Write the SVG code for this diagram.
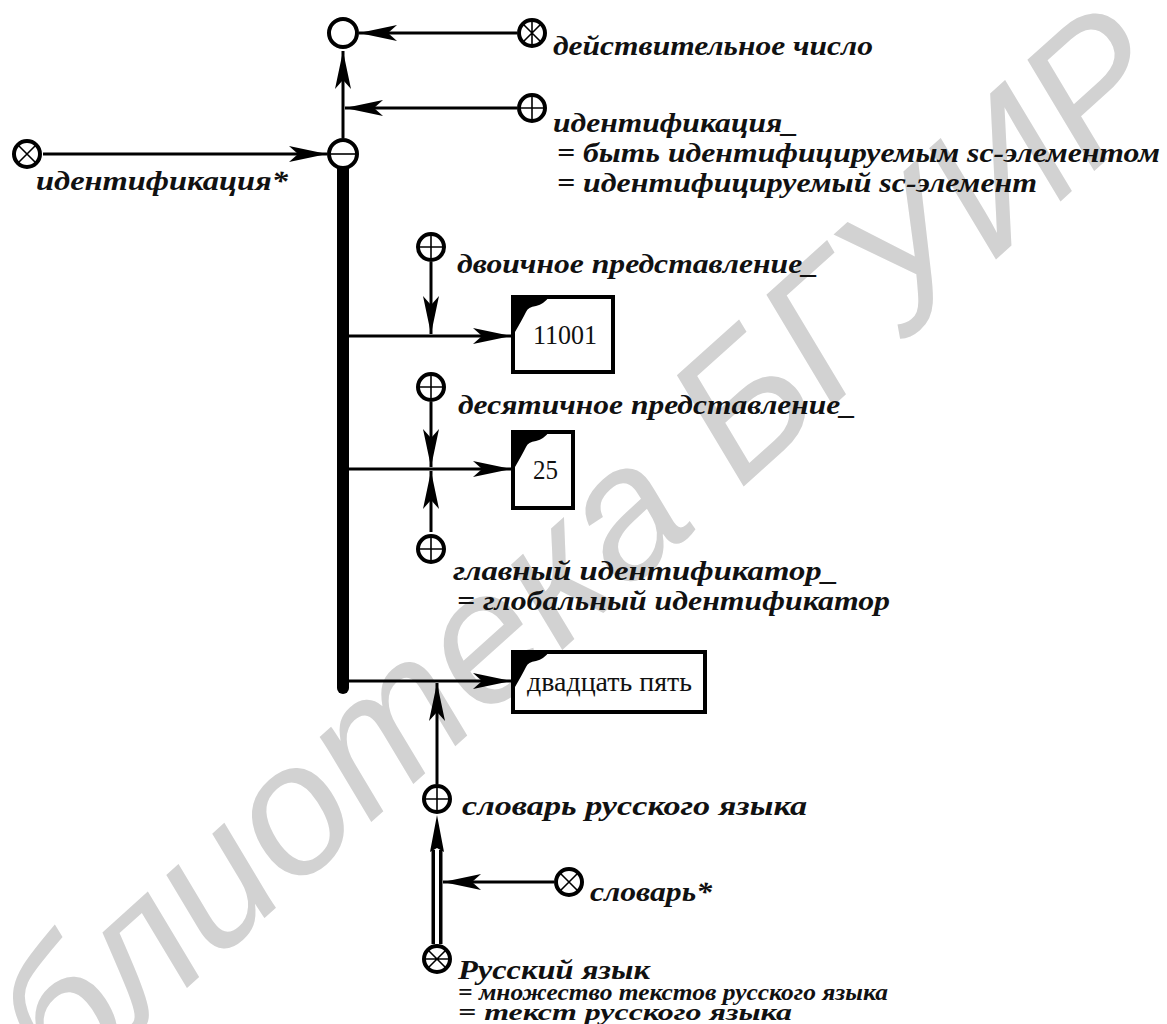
<svg xmlns="http://www.w3.org/2000/svg" width="1167" height="1024" viewBox="0 0 1167 1024">
<defs>
<style>
.lbl{font-family:"Liberation Serif","DejaVu Serif",serif;font-style:italic;font-weight:bold;font-size:28px;fill:#111;}
.sm{font-size:24px;}
.box{fill:#fff;stroke:#000;stroke-width:4;}
.btxt{font-family:"Liberation Serif","Times New Roman",serif;font-size:27px;fill:#111;}
.node{fill:#fff;stroke:#000;stroke-width:4;}
.in{stroke:#000;stroke-width:1.6;fill:none;}
.con{stroke:#000;stroke-width:3;fill:none;}
.wm{font-family:"Liberation Sans",Arial,sans-serif;font-style:italic;font-size:185px;fill:#d2d2d2;}
</style>
<marker id="ah" viewBox="0 0 38 16" refX="38" refY="8" markerWidth="38" markerHeight="16" markerUnits="userSpaceOnUse" orient="auto"><path d="M0,0 L38,8 L0,16 L9,8 Z" fill="#000"/></marker>
<path id="corner" d="M0,0 H36 Q31,7 23,9 Q15,10 13,15 Q9,23 2,35 L0,35 Z" fill="#000"/>
</defs>
<rect width="1167" height="1024" fill="#fff"/>
<g id="watermark"><text class="wm" transform="translate(540,670) rotate(-42)" text-anchor="middle">Библиотека БГУИР</text></g>

<g id="connectors">
<line class="con" x1="517" y1="33" x2="359" y2="33" marker-end="url(#ah)"/>
<line class="con" x1="343" y1="138" x2="343" y2="51" marker-end="url(#ah)"/>
<line class="con" x1="517" y1="108" x2="345" y2="108" marker-end="url(#ah)"/>
<line class="con" x1="43" y1="154" x2="327" y2="154" marker-end="url(#ah)"/>
<line x1="343" y1="165" x2="343" y2="688" stroke="#000" stroke-width="12" stroke-linecap="round"/>
<line class="con" x1="349" y1="336" x2="511" y2="336" marker-end="url(#ah)"/>
<line class="con" x1="431" y1="262" x2="431" y2="334" marker-end="url(#ah)"/>
<line class="con" x1="349" y1="469" x2="511" y2="469" marker-end="url(#ah)"/>
<line class="con" x1="431" y1="402" x2="431" y2="467" marker-end="url(#ah)"/>
<line class="con" x1="431" y1="532" x2="431" y2="471" marker-end="url(#ah)"/>
<line class="con" x1="349" y1="681" x2="511" y2="681" marker-end="url(#ah)"/>
<line class="con" x1="437" y1="784" x2="437" y2="683" marker-end="url(#ah)"/>
<line x1="437" y1="944" x2="437" y2="850" stroke="#000" stroke-width="11"/>
<line x1="437" y1="946" x2="437" y2="848" stroke="#fff" stroke-width="4"/>
<path d="M437,815 L444,852 L437,848 L430,852 Z" fill="#000"/>
<line class="con" x1="554" y1="882" x2="443" y2="882" marker-end="url(#ah)"/>
</g>

<g id="n-top"><circle class="node" cx="343" cy="33" r="14"/></g>
<g id="n-real"><circle class="node" cx="532" cy="33" r="13"/><path class="in" d="M523,24 L541,42 M541,24 L523,42 M532,20 V46"/>
<text class="lbl" x="553" y="55" textLength="320" lengthAdjust="spacingAndGlyphs">действительное число</text></g>
<g id="n-ident-role"><circle class="node" cx="532" cy="108" r="13"/><path class="in" d="M519,108 H545 M532,95 V121"/>
<text class="lbl" x="553" y="132" textLength="245" lengthAdjust="spacingAndGlyphs">идентификация_</text>
<text class="lbl" x="557" y="162" textLength="603" lengthAdjust="spacingAndGlyphs">= быть идентифицируемым sc-элементом</text>
<text class="lbl" x="557" y="192" textLength="480" lengthAdjust="spacingAndGlyphs">= идентифицируемый sc-элемент</text></g>
<g id="n-ident-rel"><circle class="node" cx="27" cy="154" r="13"/><path class="in" d="M18,145 L36,163 M36,145 L18,163"/>
<text class="lbl" x="36" y="190" textLength="252" lengthAdjust="spacingAndGlyphs">идентификация*</text></g>
<g id="n-pair"><circle class="node" cx="343" cy="154" r="14"/><path class="in" d="M329,154 H357"/></g>

<g id="n-bin"><circle class="node" cx="431" cy="247" r="13"/><path class="in" d="M418,247 H444 M431,234 V260"/>
<text class="lbl" x="457" y="273" textLength="361" lengthAdjust="spacingAndGlyphs">двоичное представление_</text></g>
<g id="b-11001"><rect class="box" x="513" y="297" width="100" height="75"/><use href="#corner" x="513" y="297"/>
<text class="btxt" x="533" y="344" textLength="64" lengthAdjust="spacingAndGlyphs">11001</text></g>

<g id="n-dec"><circle class="node" cx="431" cy="387" r="13"/><path class="in" d="M418,387 H444 M431,374 V400"/>
<text class="lbl" x="458" y="414" textLength="398" lengthAdjust="spacingAndGlyphs">десятичное представление_</text></g>
<g id="b-25"><rect class="box" x="513" y="432" width="60" height="76"/><use href="#corner" x="513" y="432"/>
<text class="btxt" x="533" y="479" textLength="25" lengthAdjust="spacingAndGlyphs">25</text></g>

<g id="n-main"><circle class="node" cx="431" cy="549" r="13"/><path class="in" d="M418,549 H444 M431,536 V562"/>
<text class="lbl" x="453" y="580" textLength="385" lengthAdjust="spacingAndGlyphs">главный идентификатор_</text>
<text class="lbl" x="457" y="610" textLength="433" lengthAdjust="spacingAndGlyphs">= глобальный идентификатор</text></g>
<g id="b-25words"><rect class="box" x="513" y="652" width="192" height="60"/><use href="#corner" x="513" y="652"/>
<text class="btxt" x="527" y="691" font-size="26" textLength="165" lengthAdjust="spacingAndGlyphs">двадцать пять</text></g>

<g id="n-dict-ru"><circle class="node" cx="437" cy="799" r="13"/><path class="in" d="M424,799 H450 M437,786 V812"/>
<text class="lbl" x="462" y="815" textLength="345" lengthAdjust="spacingAndGlyphs">словарь русского языка</text></g>
<g id="n-dict"><circle class="node" cx="569" cy="882" r="13"/><path class="in" d="M560,873 L578,891 M578,873 L560,891"/>
<text class="lbl" x="590" y="901" textLength="122" lengthAdjust="spacingAndGlyphs">словарь*</text></g>
<g id="n-ru"><circle class="node" cx="437" cy="959" r="13"/><path class="in" d="M428,950 L446,968 M446,950 L428,968 M424,959 H450"/>
<text class="lbl" x="458" y="979" font-size="25" textLength="192" lengthAdjust="spacingAndGlyphs">Русский язык</text>
<text class="lbl sm" x="458" y="1000" textLength="430" lengthAdjust="spacingAndGlyphs">= множество текстов русского языка</text>
<text class="lbl sm" x="458" y="1020" textLength="334" lengthAdjust="spacingAndGlyphs">= текст русского языка</text></g>
</svg>
